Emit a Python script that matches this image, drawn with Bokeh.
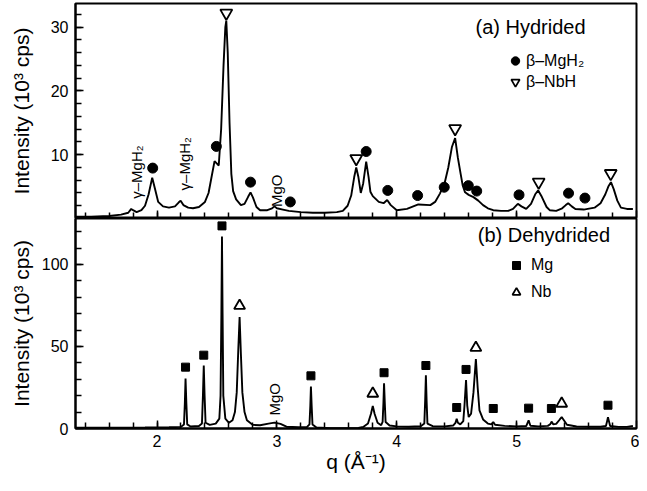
import math
from bokeh.plotting import figure
from bokeh.models import Range1d, FixedTicker, Label, Legend, LegendItem
from bokeh.layouts import column
from bokeh.embed import file_html
from bokeh.resources import INLINE

FONT = "Liberation Sans"

# ---------------- data ----------------
x_major = [2, 3, 4, 5, 6]
x_minor = [1.4, 1.6, 1.8, 2.0, 2.2, 2.4, 2.6, 2.8, 3.0, 3.2, 3.4, 3.6, 3.8,
           4.0, 4.2, 4.4, 4.6, 4.8, 5.0, 5.2, 5.4, 5.6, 5.8]
top_y_major = [10, 20, 30]
top_y_minor = [2, 4, 6, 8, 10, 12, 14, 16, 18, 20, 22, 24, 26, 28, 30, 32]
bot_y_major = [0, 50, 100]
bot_y_minor = [10, 20, 30, 40, 50, 60, 70, 80, 90, 100, 110, 120]

# (a) Hydrided pattern
top_q = [1.32, 1.45, 1.60, 1.70, 1.76, 1.785, 1.80, 1.83, 1.87, 1.90, 1.93, 1.96,
         1.985, 2.01, 2.05, 2.10, 2.15, 2.18, 2.197, 2.22, 2.26, 2.30, 2.35, 2.40,
         2.43, 2.455, 2.48, 2.50, 2.515, 2.535, 2.555, 2.57, 2.578, 2.59, 2.605,
         2.62, 2.635, 2.66, 2.70, 2.73, 2.76, 2.78, 2.80, 2.83, 2.86, 2.92, 2.96,
         2.98, 3.00, 3.05, 3.10, 3.20, 3.30, 3.40, 3.50, 3.55, 3.59, 3.62, 3.645,
         3.662, 3.68, 3.70, 3.72, 3.745, 3.765, 3.78, 3.80, 3.85, 3.89, 3.92, 3.95,
         4.00, 4.085, 4.18, 4.28, 4.32, 4.36, 4.40, 4.43, 4.46, 4.487, 4.51, 4.533,
         4.55, 4.57, 4.60, 4.64, 4.68, 4.72, 4.76, 4.805, 4.87, 4.93, 4.97, 5.01,
         5.04, 5.08, 5.12, 5.155, 5.18, 5.21, 5.25, 5.276, 5.33, 5.38, 5.41, 5.43,
         5.46, 5.49, 5.56, 5.65, 5.70, 5.74, 5.765, 5.787, 5.81, 5.84, 5.87, 5.92,
         5.97]
top_I = [0.3, 0.3, 0.4, 0.6, 0.9, 1.5, 1.3, 1.0, 1.3, 2.0, 3.8, 6.4,
         4.5, 2.6, 1.9, 1.7, 1.9, 2.5, 2.8, 2.1, 1.7, 1.6, 1.8, 2.6,
         4.0, 6.5, 9.0, 8.6, 8.3, 14.0, 24.0, 30.0, 31.0, 26.0, 15.0,
         7.0, 4.3, 3.0, 2.1, 2.3, 3.4, 4.1, 3.3, 1.8, 1.3, 1.3, 1.6,
         1.9, 1.6, 1.4, 1.2, 1.0, 0.9, 0.9, 1.0, 1.2, 2.0, 3.6, 6.5,
         8.0, 6.5, 4.0, 5.5, 8.9, 6.5, 4.2, 3.5, 2.6, 2.4, 2.9, 2.1,
         1.3, 1.5, 2.2, 2.1, 2.6, 3.9, 5.6, 8.0, 11.2, 12.6, 9.5, 7.0,
         5.2, 4.1, 3.7, 3.35, 2.8, 2.1, 1.6, 1.3, 1.2, 1.2, 1.5, 2.3,
         1.9, 1.5, 2.3, 3.8, 4.4, 3.4, 1.8, 1.3, 1.2, 1.6, 2.1, 2.4,
         1.9, 1.5, 1.4, 1.7, 2.4, 3.8, 5.0, 5.7, 4.6, 2.8, 1.7, 1.5,
         1.5]

# beta-MgH2 and beta-NbH peak markers
mgh2_q = [1.964, 2.495, 2.78, 3.112, 3.745, 3.925, 4.174, 4.396, 4.597, 4.667,
          5.02, 5.433, 5.57]
mgh2_I = [7.9, 11.3, 5.7, 2.6, 10.5, 4.4, 3.6, 4.9, 5.15, 4.3, 3.7, 3.97, 3.2]
nbh_q = [2.578, 3.662, 4.487, 5.184, 5.785]
nbh_I = [32.2, 9.4, 14.1, 5.7, 7.06]

# (b) Dehydrided pattern
bot_q = [1.32, 1.60, 1.90, 2.10, 2.20, 2.225, 2.232, 2.238, 2.245, 2.252, 2.28,
         2.35, 2.375, 2.383, 2.39, 2.397, 2.405, 2.44, 2.49, 2.52, 2.53, 2.537,
         2.542, 2.547, 2.553, 2.57, 2.60, 2.63, 2.65, 2.665, 2.678, 2.689, 2.70,
         2.712, 2.73, 2.75, 2.80, 2.86, 2.93, 2.98, 3.03, 3.08, 3.18, 3.25,
         3.272, 3.279, 3.284, 3.29, 3.297, 3.33, 3.45, 3.55, 3.68, 3.72, 3.76,
         3.785, 3.80, 3.815, 3.84, 3.87, 3.882, 3.889, 3.894, 3.90, 3.907, 3.94,
         4.00, 4.10, 4.20, 4.23, 4.237, 4.243, 4.249, 4.256, 4.30, 4.40, 4.47,
         4.49, 4.50, 4.51, 4.53, 4.555, 4.565, 4.578, 4.588, 4.60, 4.62, 4.64,
         4.66, 4.675, 4.69, 4.72, 4.76, 4.79, 4.805, 4.82, 4.90, 5.00, 5.08,
         5.10, 5.115, 5.18, 5.26, 5.28, 5.293, 5.305, 5.33, 5.36, 5.376, 5.39,
         5.42, 5.50, 5.60, 5.70, 5.745, 5.755, 5.762, 5.77, 5.78, 5.85, 5.92,
         5.97]
bot_I = [0.5, 0.5, 0.6, 0.8, 1.0, 2.5, 15.0, 30.5, 15.0, 2.5, 1.2,
         1.5, 3.0, 20.0, 38.4, 20.0, 3.5, 2.2, 3.0, 6.0, 20.0, 70.0,
         117.0, 70.0, 20.0, 6.0, 3.5, 5.0, 10.0, 22.0, 48.0, 68.0, 45.0,
         22.0, 10.0, 5.0, 2.2, 2.0, 3.0, 3.6, 2.8, 1.1, 0.8, 0.8,
         2.5, 14.0, 25.6, 14.0, 2.5, 0.6, 0.2, 0.2, 0.3, 0.9, 3.0,
         9.0, 13.8, 9.0, 3.5, 2.0, 4.0, 16.0, 27.6, 16.0, 4.0, 1.8,
         1.3, 1.1, 1.4, 3.0, 17.0, 32.5, 17.0, 3.0, 1.4, 1.3, 1.8,
         3.5, 5.9, 3.5, 2.5, 4.5, 14.0, 29.5, 14.0, 7.0, 9.0, 22.0,
         42.3, 25.0, 11.0, 5.5, 3.0, 2.5, 4.0, 2.3, 1.6, 1.3, 1.5,
         5.0, 1.7, 1.3, 1.6, 2.6, 4.2, 2.6, 2.8, 5.5, 6.9, 5.5,
         2.3, 1.2, 1.1, 1.1, 1.5, 4.5, 6.9, 4.5, 1.5, 1.0, 1.0,
         1.5]

mg_q = [2.238, 2.39, 2.542, 3.284, 3.894, 4.243, 4.50, 4.578, 4.805, 5.10, 5.29, 5.762]
mg_I = [37.4, 44.7, 123.5, 32.1, 34.0, 38.4, 12.8, 36.0, 12.2, 12.4, 12.2, 14.2]
nb_q = [2.689, 3.80, 4.66, 5.376]
nb_I = [74.8, 21.3, 49.2, 15.2]

# ---------------- figures ----------------
xr = Range1d(1.32, 6.0)


def base_style(p):
    p.outline_line_color = "black"
    p.outline_line_width = 2
    p.background_fill_color = "white"
    p.border_fill_color = "white"
    p.xgrid.visible = False
    p.ygrid.visible = False
    for ax in (p.xaxis[0], p.yaxis[0]):
        ax.axis_line_width = 2
        ax.axis_line_color = "black"
        ax.major_tick_in = 8
        ax.major_tick_out = 0
        ax.minor_tick_in = 6
        ax.minor_tick_out = 0
        ax.major_tick_line_width = 1.5
        ax.minor_tick_line_width = 1.5
        ax.major_label_text_font = FONT
        ax.major_label_text_font_size = "16px"
        ax.major_label_text_color = "black"
        ax.major_label_text_line_height = 1.0
        ax.axis_label_text_font = FONT
        ax.axis_label_text_font_size = "21px"
        ax.axis_label_text_font_style = "normal"
        ax.axis_label_text_color = "black"
        ax.axis_label_text_line_height = 1.0


p1 = figure(width=639, height=218, x_range=xr, y_range=Range1d(0, 33.7),
            output_backend="svg", toolbar_location=None,
            min_border_left=75, min_border_right=3, min_border_top=3,
            min_border_bottom=0)
base_style(p1)
p1.xaxis.ticker = FixedTicker(ticks=x_major, minor_ticks=x_minor)
p1.xaxis.major_label_text_color = None
p1.xaxis.major_label_standoff = 0
p1.yaxis.ticker = FixedTicker(ticks=top_y_major, minor_ticks=top_y_minor)
p1.yaxis.major_label_standoff = 7
p1.yaxis.axis_label = "Intensity (10³ cps)"
p1.yaxis.axis_label_standoff = 15

p1.line(top_q, top_I, line_color="black", line_width=1.9)
r_circ = p1.scatter(mgh2_q, mgh2_I, marker="circle", size=10, color="black")
r_itri = p1.scatter(nbh_q, nbh_I, marker="inverted_triangle", size=12,
                    fill_color="white", line_color="black", line_width=1.8)

leg1 = Legend(items=[LegendItem(label="β–MgH₂", renderers=[r_circ]),
                     LegendItem(label="β–NbH", renderers=[r_itri])],
              location=(429, 126), padding=0, margin=0, spacing=0,
              glyph_width=22, glyph_height=21, label_height=21,
              label_standoff=-4, label_text_font=FONT,
              label_text_font_size="16px", label_text_color="black",
              border_line_color=None, background_fill_alpha=0)
p1.add_layout(leg1)

p1.add_layout(Label(x=5.116, y=30.0, text="(a) Hydrided", text_align="center",
                    text_baseline="middle", text_font=FONT,
                    text_font_size="20px", text_color="black"))
for lx, ly, lt in [(1.831, 3.1, "γ–MgH₂"), (2.232, 4.4, "γ–MgH₂"), (2.996, 1.8, "MgO")]:
    p1.add_layout(Label(x=lx, y=ly, text=lt, angle=math.pi / 2,
                        text_align="left", text_baseline="middle",
                        text_font=FONT, text_font_size="15px",
                        text_color="black"))

p2 = figure(width=639, height=257, x_range=xr, y_range=Range1d(0, 128),
            output_backend="svg", toolbar_location=None,
            min_border_left=75, min_border_right=3, min_border_top=0)
base_style(p2)
p2.xaxis.ticker = FixedTicker(ticks=x_major, minor_ticks=x_minor)
p2.xaxis.major_label_standoff = 6
p2.xaxis.axis_label = "q (Å⁻¹)"
p2.xaxis.axis_label_standoff = 0
p2.yaxis.ticker = FixedTicker(ticks=bot_y_major, minor_ticks=bot_y_minor)
p2.yaxis.major_label_standoff = 7
p2.yaxis.axis_label = "Intensity (10³ cps)"
p2.yaxis.axis_label_standoff = 6

p2.line(bot_q, bot_I, line_color="black", line_width=1.9)
r_sq = p2.scatter(mg_q, mg_I, marker="square", size=8, color="black")
r_tri = p2.scatter(nb_q, nb_I, marker="triangle", size=11,
                   fill_color="white", line_color="black", line_width=1.8)

leg2 = Legend(items=[LegendItem(label="Mg", renderers=[r_sq]),
                     LegendItem(label="Nb", renderers=[r_tri])],
              location=(431, 126), padding=0, margin=0, spacing=7,
              glyph_width=20, glyph_height=20, label_height=20,
              label_standoff=5, label_text_font=FONT,
              label_text_font_size="16px", label_text_color="black",
              border_line_color=None, background_fill_alpha=0)
p2.add_layout(leg2)

p2.add_layout(Label(x=5.228, y=118.0, text="(b) Dehydrided", text_align="center",
                    text_baseline="middle", text_font=FONT,
                    text_font_size="20px", text_color="black"))
p2.add_layout(Label(x=2.98, y=7.9, text="MgO", angle=math.pi / 2,
                    text_align="left", text_baseline="middle",
                    text_font=FONT, text_font_size="15px", text_color="black"))

layout = column(p1, p2, spacing=0)
open("out.html", "w").write(file_html(layout, INLINE))
